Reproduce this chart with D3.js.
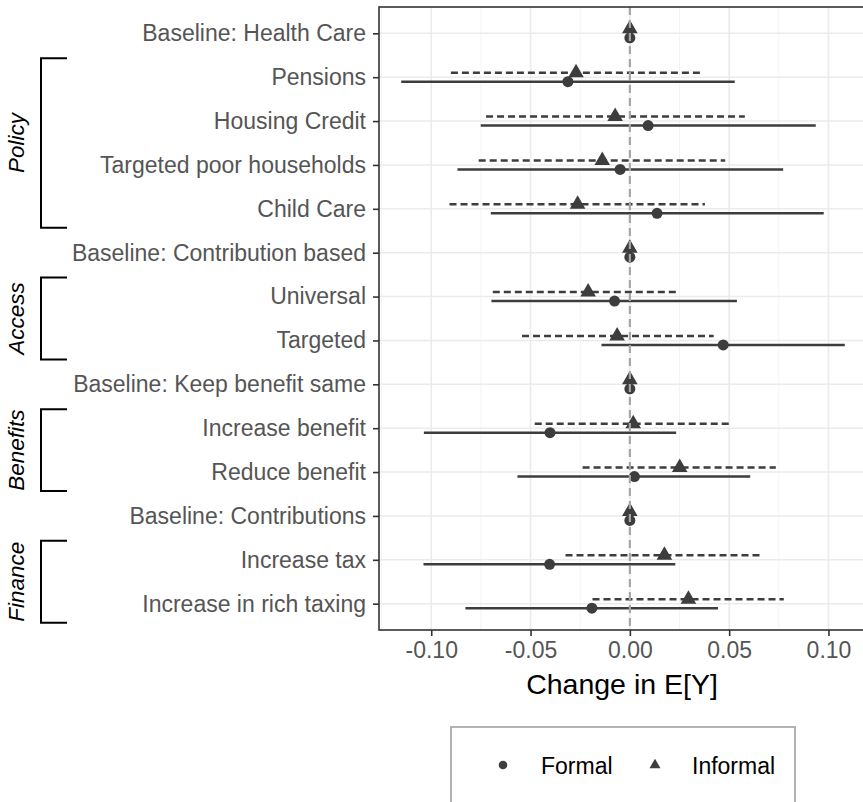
<!DOCTYPE html>
<html>
<head>
<meta charset="utf-8">
<script src="https://cdn.jsdelivr.net/npm/d3@7"></script>
<style>
  body { margin: 0; background: #fff; }
  svg { display: block; font-family: "Liberation Sans", Arial, sans-serif; }
</style>
</head>
<body>
<div id="chart"></div>
<script>
// rows, top to bottom
const categories = [
    "Baseline: Health Care", "Pensions", "Housing Credit", "Targeted poor households", "Child Care",
    "Baseline: Contribution based", "Universal", "Targeted",
    "Baseline: Keep benefit same", "Increase benefit", "Reduce benefit",
    "Baseline: Contributions", "Increase tax", "Increase in rich taxing"
];
// Formal estimates and intervals
const formalEst = [0, -0.0312, 0.0092, -0.0049, 0.0137, 0, -0.0077, 0.0470, 0, -0.0402, 0.0023, 0, -0.0404, -0.0191];
const formalLo  = [0, -0.1151, -0.0751, -0.0868, -0.0700, 0, -0.0697, -0.0143, 0, -0.1037, -0.0566, 0, -0.1039, -0.0828];
const formalHi  = [0, 0.0528, 0.0936, 0.0772, 0.0976, 0, 0.0539, 0.1082, 0, 0.0233, 0.0606, 0, 0.0229, 0.0444];
// Informal estimates and intervals
const informalEst = [0, -0.0271, -0.0074, -0.0139, -0.0263, 0, -0.0210, -0.0064, 0, 0.0017, 0.0251, 0, 0.0174, 0.0295];
const informalLo  = [0, -0.0901, -0.0724, -0.0761, -0.0908, 0, -0.0690, -0.0543, 0, -0.0479, -0.0238, 0, -0.0324, -0.0188];
const informalHi  = [0, 0.0353, 0.0579, 0.0480, 0.0378, 0, 0.0243, 0.0422, 0, 0.0507, 0.0735, 0, 0.0665, 0.0775];
// bracket groups on the left
const groupNames = ["Policy", "Access", "Benefits", "Finance"];
const groupFirst = ["Pensions", "Universal", "Increase benefit", "Increase tax"];
const groupLast  = ["Child Care", "Targeted", "Reduce benefit", "Increase in rich taxing"];
// x axis
const xTicks = [-0.10, -0.05, 0.00, 0.05, 0.10];
const xTickLabels = ["-0.10", "-0.05", "0.00", "0.05", "0.10"];
const xMinor = [-0.125, -0.075, -0.025, 0.025, 0.075, 0.125];
const seriesNames = ["Formal", "Informal"];

const W = 863, H = 802;
const P = { LEFT: 379, RIGHT: 867, TOP: 7, BOTTOM: 630 };
const INK = "#3d3d3d";

const svg = d3.select("#chart").append("svg")
    .attr("width", W)
    .attr("height", H);

const x = d3.scaleLinear().domain([-0.1263, 0.1194]).range([P.LEFT, P.RIGHT]);
const y = d3.scalePoint().domain(categories).range([P.TOP, P.BOTTOM]).padding(0.6);
const DODGE = 4.5;

// build rows for each series
const rows = categories.map((c, i) => ({
    cat: c,
    formal: { est: formalEst[i], lo: formalLo[i], hi: formalHi[i] },
    informal: { est: informalEst[i], lo: informalLo[i], hi: informalHi[i] }
}));

const panel = svg.append("g");
svg.append("clipPath").attr("id", "clip")
    .append("rect")
    .attr("x", P.LEFT).attr("y", P.TOP)
    .attr("width", P.RIGHT - P.LEFT).attr("height", P.BOTTOM - P.TOP);

// grid
panel.selectAll(".minor").data(xMinor.filter(d => x(d) > P.LEFT + 1 && x(d) < P.RIGHT))
    .enter().append("line")
    .attr("x1", d => x(d)).attr("x2", d => x(d))
    .attr("y1", P.TOP).attr("y2", P.BOTTOM)
    .attr("stroke", "#f4f4f4").attr("stroke-width", 1);
panel.selectAll(".vmajor").data(xTicks)
    .enter().append("line")
    .attr("x1", d => x(d)).attr("x2", d => x(d))
    .attr("y1", P.TOP).attr("y2", P.BOTTOM)
    .attr("stroke", "#ebebeb").attr("stroke-width", 1.6);
panel.selectAll(".hmajor").data(categories)
    .enter().append("line")
    .attr("x1", P.LEFT).attr("x2", P.RIGHT)
    .attr("y1", d => y(d)).attr("y2", d => y(d))
    .attr("stroke", "#ebebeb").attr("stroke-width", 1.6);

const marks = svg.append("g").attr("clip-path", "url(#clip)");

// interval lines
marks.selectAll(".inf-range").data(rows.filter(d => d.informal.hi > d.informal.lo))
    .enter().append("line")
    .attr("x1", d => x(d.informal.lo)).attr("x2", d => x(d.informal.hi))
    .attr("y1", d => y(d.cat) - DODGE).attr("y2", d => y(d.cat) - DODGE)
    .attr("stroke", INK).attr("stroke-width", 2.6)
    .attr("stroke-dasharray", "7,4");
marks.selectAll(".for-range").data(rows.filter(d => d.formal.hi > d.formal.lo))
    .enter().append("line")
    .attr("x1", d => x(d.formal.lo)).attr("x2", d => x(d.formal.hi))
    .attr("y1", d => y(d.cat) + DODGE).attr("y2", d => y(d.cat) + DODGE)
    .attr("stroke", INK).attr("stroke-width", 2.6);

// points
marks.selectAll(".for-pt").data(rows)
    .enter().append("circle")
    .attr("cx", d => x(d.formal.est))
    .attr("cy", d => y(d.cat) + DODGE)
    .attr("r", 5.5)
    .attr("fill", INK);
const tri = d3.symbol().type(d3.symbolTriangle).size(105);
marks.selectAll(".inf-pt").data(rows)
    .enter().append("path")
    .attr("d", tri)
    .attr("transform", d => `translate(${x(d.informal.est)}, ${y(d.cat) - DODGE})`)
    .attr("fill", INK);

// zero reference line
marks.append("line")
    .attr("x1", x(0)).attr("x2", x(0))
    .attr("y1", P.TOP).attr("y2", P.BOTTOM)
    .attr("stroke", "#a6a6a6").attr("stroke-width", 2.2)
    .attr("stroke-dasharray", "8,5");

// panel border
svg.append("rect")
    .attr("x", P.LEFT).attr("y", P.TOP)
    .attr("width", P.RIGHT - P.LEFT).attr("height", P.BOTTOM - P.TOP)
    .attr("fill", "none").attr("stroke", "#333").attr("stroke-width", 1.6);

// axes
const yAxis = svg.append("g")
    .attr("transform", `translate(${P.LEFT}, 0)`)
    .call(d3.axisLeft(y).tickSize(6).tickPadding(7));
const xAxis = svg.append("g")
    .attr("transform", `translate(0, ${P.BOTTOM})`)
    .call(d3.axisBottom(x).tickValues(xTicks).tickSize(6).tickPadding(6)
        .tickFormat((d, i) => xTickLabels[i]));
[yAxis, xAxis].forEach(a => {
    a.select(".domain").remove();
    a.selectAll(".tick line").attr("stroke", "#333").attr("stroke-width", 1.6);
    a.selectAll(".tick text")
        .attr("fill", "#555")
        .style("font-size", "23px")
        .style("font-family", "'Liberation Sans', Arial, sans-serif");
});

// x-axis title
svg.append("text")
    .attr("x", (P.LEFT + P.RIGHT) / 2 - 1)
    .attr("y", 694)
    .attr("text-anchor", "middle")
    .attr("font-size", "28.5px")
    .attr("fill", "#000")
    .text("Change in E[Y]");

// group brackets
const HALF = 19;
groupNames.forEach((g, i) => {
    const top = y(groupFirst[i]) - HALF;
    const bot = y(groupLast[i]) + HALF;
    svg.append("path")
        .attr("d", `M67,${top} H41 V${bot} H67`)
        .attr("fill", "none")
        .attr("stroke", "#000")
        .attr("stroke-width", 2);
    svg.append("text")
        .attr("transform", `translate(24, ${(top + bot) / 2}) rotate(-90)`)
        .attr("text-anchor", "middle")
        .attr("font-size", "22.5px")
        .attr("font-style", "italic")
        .attr("fill", "#000")
        .text(g);
});

// legend
const legend = svg.append("g");
legend.append("rect")
    .attr("x", 451).attr("y", 727)
    .attr("width", 344).attr("height", 76)
    .attr("fill", "#fff")
    .attr("stroke", "#b3b3b3").attr("stroke-width", 2);
legend.append("circle")
    .attr("cx", 503).attr("cy", 765).attr("r", 4.3)
    .attr("fill", INK);
legend.append("path")
    .attr("d", d3.symbol().type(d3.symbolTriangle).size(52))
    .attr("transform", "translate(655, 765)")
    .attr("fill", INK);
legend.selectAll(".lab").data(seriesNames)
    .enter().append("text")
    .attr("x", (d, i) => [541, 692][i])
    .attr("y", 773.5)
    .attr("font-size", "23px")
    .attr("fill", "#000")
    .text(d => d);
</script>
</body>
</html>
